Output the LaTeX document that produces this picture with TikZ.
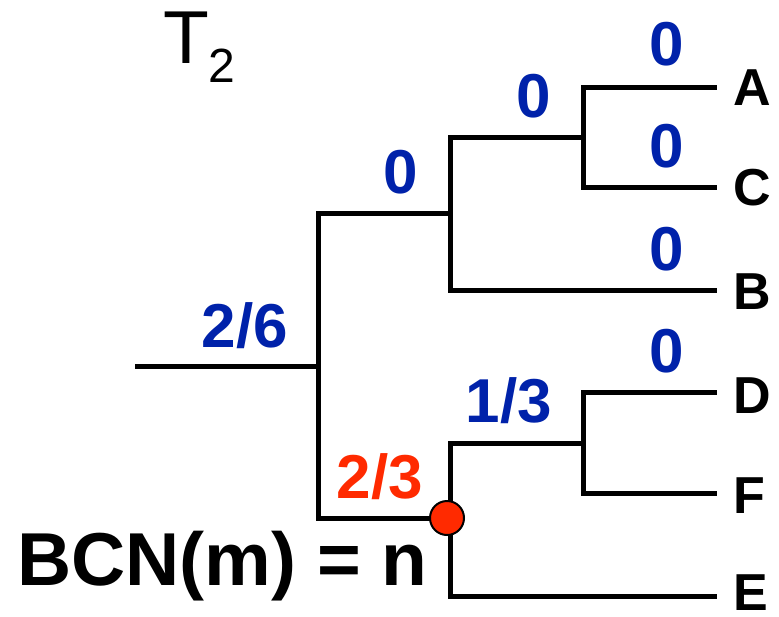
\documentclass[tikz,border=0pt]{standalone}
\usepackage{fontspec}
\setmainfont{Liberation Sans}
\definecolor{lblblue}{RGB}{0,34,170}
\definecolor{lblred}{RGB}{255,42,0}
\begin{document}
\begin{tikzpicture}[x=1pt,y=-1pt,
  branch/.style={line width=5pt, line join=miter, line cap=butt},
  leaf/.style={anchor=base west, inner sep=0pt, font=\fontsize{52}{52}\selectfont\bfseries},
  blue/.style={anchor=base, inner sep=0pt, text=lblblue, font=\fontsize{62}{62}\selectfont\bfseries},
  redlbl/.style={anchor=base, inner sep=0pt, text=lblred, font=\fontsize{62}{62}\selectfont\bfseries},
  dot/.style={circle, fill=lblred, draw=black, line width=2pt, minimum size=34pt, inner sep=0pt}]
\useasboundingbox (0,0) rectangle (779,616);
% internal nodes and leaf ends
\coordinate (r0) at (135,366);
\coordinate (n1) at (318,366);
\coordinate (n2) at (450,213);
\coordinate (n3) at (583,137);
\coordinate (n5) at (450,518);
\coordinate (n6) at (583,443);
\coordinate (lA) at (717,87);
\coordinate (lC) at (717,187);
\coordinate (lB) at (717,290);
\coordinate (lD) at (717,392);
\coordinate (lF) at (717,493);
\coordinate (lE) at (717,596);
% branches
\draw[branch] (r0) -- (n1);
\draw[branch] (n1) |- (n2);
\draw[branch] (n1) |- (n5);
\draw[branch] (n2) |- (n3);
\draw[branch] (n2) |- (lB);
\draw[branch] (n3) |- (lA);
\draw[branch] (n3) |- (lC);
\draw[branch] (n5) |- (n6);
\draw[branch] (n5) |- (lE);
\draw[branch] (n6) |- (lD);
\draw[branch] (n6) |- (lF);
\node[dot] (m) at (447,518) {};
% leaf labels
\node[leaf] (A) at (733,105) {A};
\node[leaf] (C) at (733,205) {C};
\node[leaf] (B) at (733,309) {B};
\node[leaf] (D) at (733,413) {D};
\node[leaf] (F) at (733,513) {F};
\node[leaf] (E) at (733,610) {E};
% branch labels
\node[blue] (wA) at (667,65) {0};
\node[blue] (wC) at (667,167) {0};
\node[blue] (w3) at (534,117) {0};
\node[blue] (w2) at (401,193) {0};
\node[blue] (wB) at (667,270) {0};
\node[blue] (wD) at (667,372) {0};
\node[blue] (w1) at (245,347) {2/6};
\node[blue] (w6) at (509,422) {1/3};
\node[redlbl] (w5) at (380,498) {2/3};
% titles
\node[anchor=base west, inner sep=0pt, font=\fontsize{75}{75}\selectfont] (T) at (163,63) {T};
\node[anchor=base west, inner sep=0pt, font=\fontsize{48}{48}\selectfont] (T2) at (208,82) {2};
\node[anchor=base west, inner sep=0pt, font=\fontsize{75}{75}\selectfont\bfseries] (bcn) at (17,585) {BCN(m) = n};
\end{tikzpicture}
\end{document}
